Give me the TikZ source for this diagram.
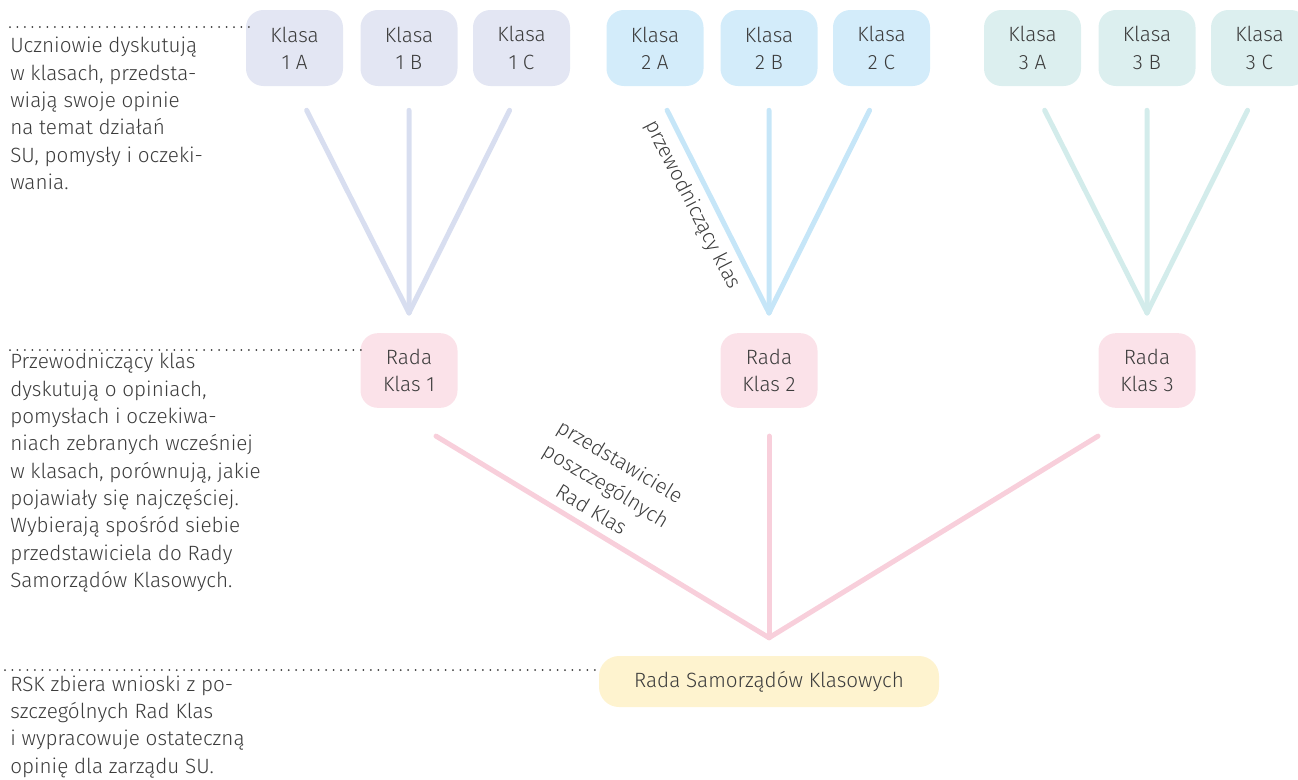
\documentclass[tikz,border=0pt]{standalone}
\usepackage{fontspec}
\setmainfont{Fira Sans Light}
\usetikzlibrary{calc}
\definecolor{tekst}{HTML}{3C3C3C}
\definecolor{fiolet}{HTML}{E3E6F3}
\definecolor{fioletlinia}{HTML}{D8DEF0}
\definecolor{niebieski}{HTML}{D3ECFA}
\definecolor{niebieskilinia}{HTML}{C6E6F8}
\definecolor{mieta}{HTML}{DCEFEF}
\definecolor{mietalinia}{HTML}{D3ECEB}
\definecolor{roz}{HTML}{FBE2E9}
\definecolor{rozlinia}{HTML}{F8CFDB}
\definecolor{krem}{HTML}{FEF3CF}
\tikzset{
  >=latex,
  every node/.style={font=\fontsize{15.5}{20.5}\selectfont, text=tekst},
  pudlo/.style={rounded corners=13pt, minimum width=72.75pt, minimum height=57pt,
    align=center, inner sep=0pt},
  klasa1/.style={pudlo, fill=fiolet},
  klasa2/.style={pudlo, fill=niebieski},
  klasa3/.style={pudlo, fill=mieta},
  rada/.style={pudlo, fill=roz, minimum height=56pt},
  rsk/.style={rounded corners=15pt, fill=krem, minimum width=255pt,
    minimum height=38.25pt, inner sep=0pt},
  linia/.style={line width=3.75pt, line cap=round},
  kropki/.style={draw=tekst, line width=1.5pt, line cap=round,
    dash pattern=on 0pt off 5.6pt},
  opis/.style={anchor=base west, align=left, inner sep=0pt},
  etykieta/.style={inner sep=0pt}
}
\begin{document}
\begin{tikzpicture}[x=0.75pt, y=-0.75pt]
  \clip (0,0) rectangle (1298,779);
  % linie kropkowane
  \coordinate (d1) at (10,27);
  \coordinate (d2) at (10,350);
  \coordinate (d3) at (5,670);
  \node[klasa1] (k1a) at (294.5,48) {Klasa\\1 A};
  \node[klasa1] (k1b) at (409,48) {Klasa\\1 B};
  \node[klasa1] (k1c) at (521.5,48) {Klasa\\1 C};
  \node[klasa2] (k2a) at (655,48) {Klasa\\2 A};
  \node[klasa2] (k2b) at (769,48) {Klasa\\2 B};
  \node[klasa2] (k2c) at (881.5,48) {Klasa\\2 C};
  \node[klasa3] (k3a) at (1032.5,48) {Klasa\\3 A};
  \node[klasa3] (k3b) at (1147,48) {Klasa\\3 B};
  \node[klasa3] (k3c) at (1259.5,48) {Klasa\\3 C};
  \node[rada] (r1) at (409,370.5) {Rada\\Klas 1};
  \node[rada] (r2) at (769,370.5) {Rada\\Klas 2};
  \node[rada] (r3) at (1147,370.5) {Rada\\Klas 3};
  \node[rsk] (rsk) at (769,681.5) {Rada Samorządów Klasowych};
  \draw[kropki] (d1) -- ($(d1 -| k1a.west)+(6,0)$);
  \draw[kropki] (d2) -- ($(d2 -| r1.west)+(6,0)$);
  \draw[kropki] (d3) -- (d3 -| rsk.west);
  % zbieg linii
  \coordinate (z1) at ($(r1.north)+(0,-20)$);
  \coordinate (z2) at ($(r2.north)+(0,-20)$);
  \coordinate (z3) at ($(r3.north)+(0,-20)$);
  \coordinate (z4) at ($(rsk.north)+(0,-18)$);
  \draw[linia, draw=fioletlinia] ($(k1a.south)!0.106!(z1)$) -- (z1);
  \draw[linia, draw=fioletlinia] ($(k1b.south)!0.106!(z1)$) -- (z1);
  \draw[linia, draw=fioletlinia] ($(k1c.south)!0.106!(z1)$) -- (z1);
  \draw[linia, draw=niebieskilinia] ($(k2a.south)!0.106!(z2)$) -- (z2);
  \draw[linia, draw=niebieskilinia] ($(k2b.south)!0.106!(z2)$) -- (z2);
  \draw[linia, draw=niebieskilinia] ($(k2c.south)!0.106!(z2)$) -- (z2);
  \draw[linia, draw=mietalinia] ($(k3a.south)!0.106!(z3)$) -- (z3);
  \draw[linia, draw=mietalinia] ($(k3b.south)!0.106!(z3)$) -- (z3);
  \draw[linia, draw=mietalinia] ($(k3c.south)!0.106!(z3)$) -- (z3);
  \draw[linia, draw=rozlinia] ($(r1.south)+(27,28)$) -- (z4);
  \draw[linia, draw=rozlinia] ($(r2.south)+(0,28)$) -- (z4);
  \draw[linia, draw=rozlinia] ($(r3.south)+(-49,28)$) -- (z4);
  \node[etykieta, rotate=-63] (e1) at (692,205) {przewodniczący klas};
  \node[etykieta, rotate=-31, align=center,
    font=\fontsize{15.5}{21}\selectfont] (e2) at (606,485)
    {przedstawiciele\\poszczególnych\\Rad Klas};
  % opisy (kotwica: linia bazowa ostatniego wiersza)
  \node[opis] (opis1) at (10,189.5) {Uczniowie dyskutują\\w klasach, przedsta-\\wiają swoje opinie\\na temat działań\\SU, pomysły i oczeki-\\wania.};
  \node[opis] (opis2) at (10,587.5) {Przewodniczący klas\\dyskutują o opiniach,\\pomysłach i oczekiwa-\\niach zebranych wcześniej\\w klasach, porównują, jakie\\pojawiały się najczęściej.\\Wybierają spośród siebie\\przedstawiciela do Rady\\Samorządów Klasowych.};
  \node[opis] (opis3) at (10,773) {RSK zbiera wnioski z po-\\szczególnych Rad Klas\\i wypracowuje ostateczną\\opinię dla zarządu SU.};
\end{tikzpicture}
\end{document}
